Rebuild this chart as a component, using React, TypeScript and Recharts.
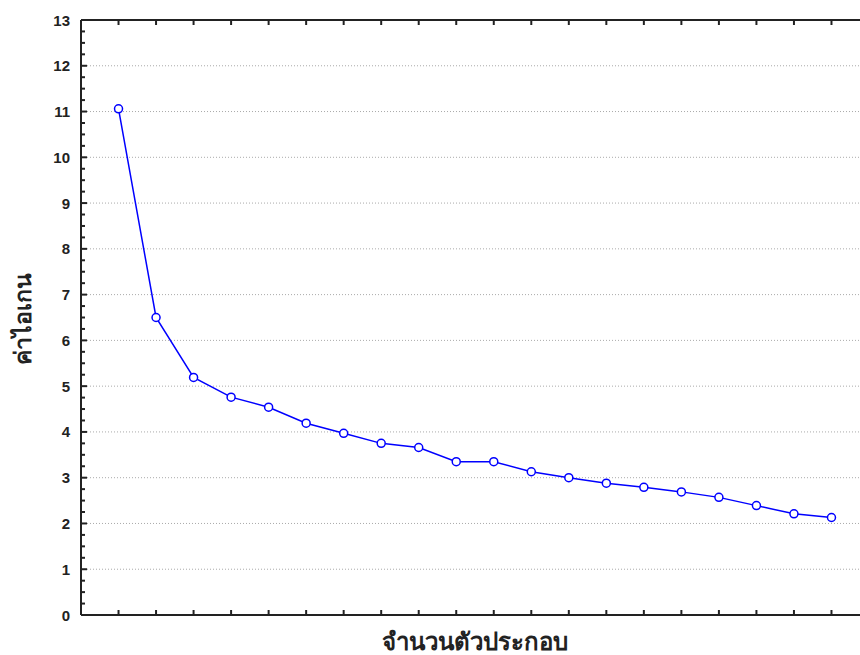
import React from 'react';
import { Line, LineChart, ReferenceLine, XAxis, YAxis } from 'recharts';

const components = [1, 2, 3, 4, 5, 6, 7, 8, 9, 10, 11, 12, 13, 14, 15, 16, 17, 18, 19, 20];
const eigenvalues = [
  11.06, 6.5, 5.19, 4.76, 4.54, 4.19, 3.97, 3.75, 3.66, 3.35,
  3.35, 3.13, 3.0, 2.88, 2.79, 2.69, 2.57, 2.39, 2.21, 2.13,
];
const yTicks = [0, 1, 2, 3, 4, 5, 6, 7, 8, 9, 10, 11, 12, 13];
const gridValues = [1, 2, 3, 4, 5, 6, 7, 8, 9, 10, 11, 12];
const yTitle = 'ค่าไอเกน';
const xTitle = 'จำนวนตัวประกอบ';

const data = components.map((c, i) => ({ component: c, value: eigenvalues[i] }));
// major ticks plus three minor ticks between each pair
const yAllTicks = yTicks
  .slice(0, -1)
  .flatMap((t) => [t, t + 0.25, t + 0.5, t + 0.75])
  .concat(yTicks[yTicks.length - 1]);

const AXIS_X = 81;
const TOP = 20;
const BOTTOM = 615;
const INK = '#222';
const FONT = '"Liberation Sans", Arial, sans-serif';

const YTick = (props: any) => {
  const { y, payload } = props;
  const major = Number.isInteger(payload.value);
  return (
    <g>
      <line x1={AXIS_X} x2={AXIS_X + (major ? 6 : 4)} y1={y} y2={y} stroke={INK} strokeWidth={2} />
      {major && (
        <text x={70} y={y} dy={5.5} textAnchor='end' fontFamily={FONT} fontSize={15} fontWeight='bold' fill={INK}>
          {payload.value}
        </text>
      )}
    </g>
  );
};

const BottomTick = (props: any) => (
  <line x1={props.x} x2={props.x} y1={BOTTOM} y2={BOTTOM - 5} stroke={INK} strokeWidth={2} />
);

const TopTick = (props: any) => (
  <line x1={props.x} x2={props.x} y1={TOP} y2={TOP + 5} stroke={INK} strokeWidth={2} />
);

export default function App() {
  return (
    <div style={{ position: 'absolute', left: 0, top: 0, width: 860, height: 655, overflow: 'hidden', background: '#fff' }}>
      <LineChart
        width={900}
        height={655}
        data={data}
        margin={{ top: TOP - 1, left: AXIS_X - 1, right: 31, bottom: 655 - BOTTOM - 1 }}
      >
        <XAxis
          xAxisId='bottom'
          dataKey='component'
          type='number'
          domain={[0, 21]}
          ticks={components}
          height={1}
          axisLine={{ stroke: INK, strokeWidth: 2 }}
          tickLine={false}
          tick={<BottomTick />}
          interval={0}
        />
        <XAxis
          xAxisId='top'
          orientation='top'
          dataKey='component'
          type='number'
          domain={[0, 21]}
          ticks={components}
          height={1}
          axisLine={{ stroke: INK, strokeWidth: 2 }}
          tickLine={false}
          tick={<TopTick />}
          interval={0}
        />
        <YAxis
          domain={[0, 13]}
          ticks={yAllTicks}
          width={1}
          axisLine={{ stroke: INK, strokeWidth: 2 }}
          tickLine={false}
          tick={<YTick />}
          interval={0}
        />
        {gridValues.map((v) => (
          <ReferenceLine
            key={v}
            y={v}
            xAxisId='bottom'
            stroke='#aaa'
            strokeWidth={1}
            strokeDasharray='1 2'
          />
        ))}
        <Line
          xAxisId='bottom'
          type='linear'
          dataKey='value'
          stroke='#0000ff'
          strokeWidth={1.5}
          dot={{ r: 4, stroke: '#0000ff', strokeWidth: 1.5, fill: '#fff' }}
          isAnimationActive={false}
        />
      </LineChart>
      <div
        style={{
          position: 'absolute',
          left: 23,
          top: 319,
          transform: 'translate(-50%, -50%) rotate(-90deg)',
          whiteSpace: 'nowrap',
          fontFamily: FONT,
          fontWeight: 'bold',
          fontSize: 23,
          color: INK,
        }}
      >
        {yTitle}
      </div>
      <div
        style={{
          position: 'absolute',
          left: 475,
          top: 641,
          transform: 'translate(-50%, -50%)',
          whiteSpace: 'nowrap',
          fontFamily: FONT,
          fontWeight: 'bold',
          fontSize: 24,
          color: INK,
        }}
      >
        {xTitle}
      </div>
    </div>
  );
}
